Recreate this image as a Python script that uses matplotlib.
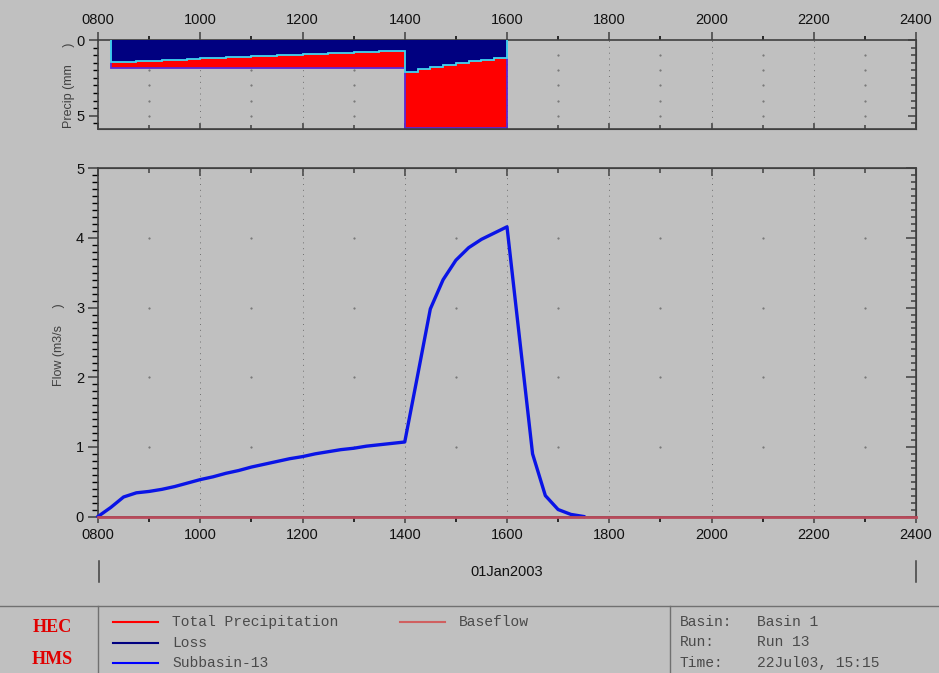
import numpy as np
import matplotlib
matplotlib.use("Agg")
import matplotlib.pyplot as plt
from matplotlib.lines import Line2D
from matplotlib.ticker import MultipleLocator, FuncFormatter

# Subbasin-13 outflow (m3/s), every 15 min from 0800
flow_start = 8.0
flow_step = 0.25
flow = [0.00, 0.13, 0.28, 0.34, 0.36, 0.39, 0.43, 0.48, 0.53,
        0.57, 0.62, 0.66, 0.71, 0.75, 0.79, 0.83, 0.86,
        0.90, 0.93, 0.96, 0.98, 1.01, 1.03, 1.05, 1.07,
        2.02, 2.98, 3.40, 3.68, 3.86, 3.98, 4.07, 4.16,
        2.53, 0.90, 0.30, 0.10, 0.03, 0.00]

# baseflow (m3/s)
baseflow_times = [8.0, 24.0]
baseflow = [0.0, 0.0]

# precipitation and loss per 15 min interval (mm), first interval ends 0830
precip_start = 8.25
precip = [1.87, 1.87, 1.87, 1.87, 1.87, 1.87, 1.87, 1.87,
          1.87, 1.87, 1.87, 1.87, 1.87, 1.87, 1.87, 1.87,
          1.87, 1.87, 1.87, 1.87, 1.87, 1.87, 1.87,
          5.80, 5.80, 5.80, 5.80, 5.80, 5.80, 5.80, 5.80]
loss = [1.48, 1.46, 1.42, 1.39, 1.35, 1.30, 1.25, 1.21,
        1.17, 1.13, 1.10, 1.06, 1.03, 1.00, 0.97, 0.95,
        0.91, 0.88, 0.85, 0.81, 0.78, 0.75, 0.72,
        2.10, 1.94, 1.77, 1.66, 1.50, 1.39, 1.30, 1.21]

legend_names = ["Total Precipitation", "Loss", "Subbasin-13", "Baseflow"]
info_keys = ["Basin:", "Run:", "Time:"]
info_vals = ["Basin 1", "Run 13", "22Jul03, 15:15"]
date_label = "01Jan2003"

BG = "#c0c0c0"
SPINE = "#404040"
W, H = 939, 673

plt.rcParams['font.family'] = ['Liberation Sans', 'DejaVu Sans']

def fx(x):
    return x / W

def fy(y):
    return 1 - y / H

flow_t = flow_start + flow_step * np.arange(len(flow))
edges = precip_start + 0.25 * np.arange(len(precip) + 1)

fig = plt.figure(figsize=(W / 100, H / 100), dpi=100, facecolor=BG)
ax_p = fig.add_axes([fx(98), fy(129.3), fx(916) - fx(98), fy(40) - fy(129.3)])
ax_f = fig.add_axes([fx(98), fy(516.5), fx(916) - fx(98), fy(168.3) - fy(516.5)])

hour_fmt = FuncFormatter(lambda v, _: f"{int(round(v)):02d}00")
dot_style = dict(linestyle='none', marker='s', ms=0.6, color='#7a7a7a', zorder=0.5)

for ax in (ax_p, ax_f):
    ax.set_facecolor(BG)
    ax.set_xlim(8, 24)
    ax.xaxis.set_major_locator(MultipleLocator(2))
    ax.xaxis.set_minor_locator(MultipleLocator(1))
    ax.xaxis.set_major_formatter(hour_fmt)
    for s in ax.spines.values():
        s.set_color(SPINE)
        s.set_linewidth(1.2)
    ax.grid(axis='x', which='major', linestyle=(0, (1, 5)), color='#707070', lw=0.7, zorder=0.5)
    ax.tick_params(colors=SPINE, labelcolor='#111111', labelsize=10.5)

# ---- precipitation panel ----
ax_p.set_ylim(5.9, 0)
ax_p.yaxis.set_major_locator(MultipleLocator(5))
ax_p.yaxis.set_minor_locator(MultipleLocator(0.5))
ax_p.xaxis.tick_top()
ax_p.tick_params(axis='x', which='major', direction='out', length=6, width=1.1, pad=3)
ax_p.tick_params(axis='x', which='minor', direction='out', length=3, width=1.1)
ax_p.tick_params(axis='y', which='major', direction='out', length=6.5, width=1.1, pad=3)
ax_p.tick_params(axis='y', which='minor', direction='out', length=3.5, width=1.0)

gx, gy = np.meshgrid(np.arange(9, 24, 2), np.arange(1, 6))
ax_p.plot(gx.ravel(), gy.ravel(), **dot_style)

ax_p.stairs(precip, edges, baseline=0, fill=True, color='#ff0000', zorder=2)
ax_p.stairs(precip, edges, baseline=0, fill=False, color='#5a28d8', lw=1.3, zorder=2.5)
ax_p.stairs(loss, edges, baseline=0, fill=True, color='#000080', zorder=3)
ax_p.stairs(loss, edges, baseline=0, fill=False, color='#40d8f0', lw=1.3, zorder=3.5)

sp_x = ax_p.secondary_xaxis('bottom')
sp_x.xaxis.set_major_locator(MultipleLocator(2))
sp_x.xaxis.set_minor_locator(MultipleLocator(1))
sp_x.tick_params(axis='x', which='major', direction='in', length=4, width=1.1, labelbottom=False, colors=SPINE)
sp_x.tick_params(axis='x', which='minor', direction='in', length=3, width=1.1, colors=SPINE)
sp_x.spines['bottom'].set_color(SPINE)
sp_y = ax_p.secondary_yaxis('right')
sp_y.yaxis.set_major_locator(MultipleLocator(5))
sp_y.yaxis.set_minor_locator(MultipleLocator(0.5))
sp_y.tick_params(axis='y', which='major', direction='in', length=6, width=1.1, labelright=False, colors=SPINE)
sp_y.tick_params(axis='y', which='minor', direction='in', length=3.5, width=1.1, colors=SPINE)
sp_y.spines['right'].set_color(SPINE)

# ---- flow panel ----
ax_f.set_ylim(0, 5)
ax_f.yaxis.set_major_locator(MultipleLocator(1))
ax_f.yaxis.set_minor_locator(MultipleLocator(0.1))
ax_f.tick_params(axis='x', which='major', direction='out', length=4, width=1.1, pad=4)
ax_f.tick_params(axis='x', which='minor', direction='out', length=3.5, width=1.1)
ax_f.tick_params(axis='y', which='major', direction='out', length=7, width=1.1, pad=3)
ax_f.tick_params(axis='y', which='minor', direction='out', length=4, width=1.0)

gx, gy = np.meshgrid(np.arange(9, 24, 2), np.arange(1, 5))
ax_f.plot(gx.ravel(), gy.ravel(), **dot_style)

ax_f.plot(flow_t, flow, color='#0a14e6', lw=2.4, zorder=3, solid_joinstyle='round', clip_on=False)
ax_f.plot(baseflow_times, baseflow, color='#b84a5a', lw=2.0, zorder=4, clip_on=False)

sf_x = ax_f.secondary_xaxis('top')
sf_x.xaxis.set_major_locator(MultipleLocator(2))
sf_x.xaxis.set_minor_locator(MultipleLocator(1))
sf_x.tick_params(axis='x', which='major', direction='in', length=6, width=1.1, labeltop=False, colors=SPINE)
sf_x.tick_params(axis='x', which='minor', direction='in', length=3.5, width=1.1, colors=SPINE)
sf_x.spines['top'].set_color(SPINE)
sf_y = ax_f.secondary_yaxis('right')
sf_y.yaxis.set_major_locator(MultipleLocator(1))
sf_y.yaxis.set_minor_locator(MultipleLocator(0.1))
sf_y.tick_params(axis='y', which='major', direction='in', length=7, width=1.1, labelright=False, colors=SPINE)
sf_y.tick_params(axis='y', which='minor', direction='in', length=3.5, width=1.1, colors=SPINE)
sf_y.spines['right'].set_color(SPINE)

# axis titles
fig.text(fx(69), fy(85), "Precip (mm     )", rotation=90, ha='center', va='center',
         fontsize=9, color='#404040')
fig.text(fx(59), fy(345), "Flow (m3/s     )", rotation=90, ha='center', va='center',
         fontsize=9, color='#404040')

# date line under the time axis
fig.text(fx(507), fy(572), date_label, ha='center', va='center', fontsize=10.5, color='#111111')
for xp in (99, 916):
    fig.add_artist(Line2D([fx(xp), fx(xp)], [fy(561), fy(582)], color=SPINE, lw=1.1))

# ---- bottom legend panel ----
fig.add_artist(Line2D([0, 1], [fy(606), fy(606)], color='#707070', lw=1.0))
for xp in (98, 670):
    fig.add_artist(Line2D([fx(xp), fx(xp)], [0, fy(606)], color='#707070', lw=1.0))

fig.text(fx(52), fy(628), "HEC", ha='center', va='center', fontsize=13, color='#e00000',
         family='Liberation Serif', weight='bold')
fig.text(fx(52), fy(660), "HMS", ha='center', va='center', fontsize=13, color='#e00000',
         family='Liberation Serif', weight='bold')

mono = dict(family='Liberation Mono', fontsize=10.5, color='#4a4a4a', va='center')
legend_colors = ['#ff0000', '#000080', '#0000ff', '#d06060']
legend_pos = [(113, 622), (113, 643), (113, 663), (400, 622)]
for name, col, (lx, ly) in zip(legend_names, legend_colors, legend_pos):
    fig.add_artist(Line2D([fx(lx), fx(lx + 45)], [fy(ly), fy(ly)], color=col, lw=1.5))
    fig.text(fx(lx + 59), fy(ly), name, **mono)

for i, (k, v) in enumerate(zip(info_keys, info_vals)):
    yy = 622 + 20.5 * i
    fig.text(fx(680), fy(yy), k, **mono)
    fig.text(fx(757), fy(yy), v, **mono)

fig.savefig("out.png", dpi=100, facecolor=BG)
